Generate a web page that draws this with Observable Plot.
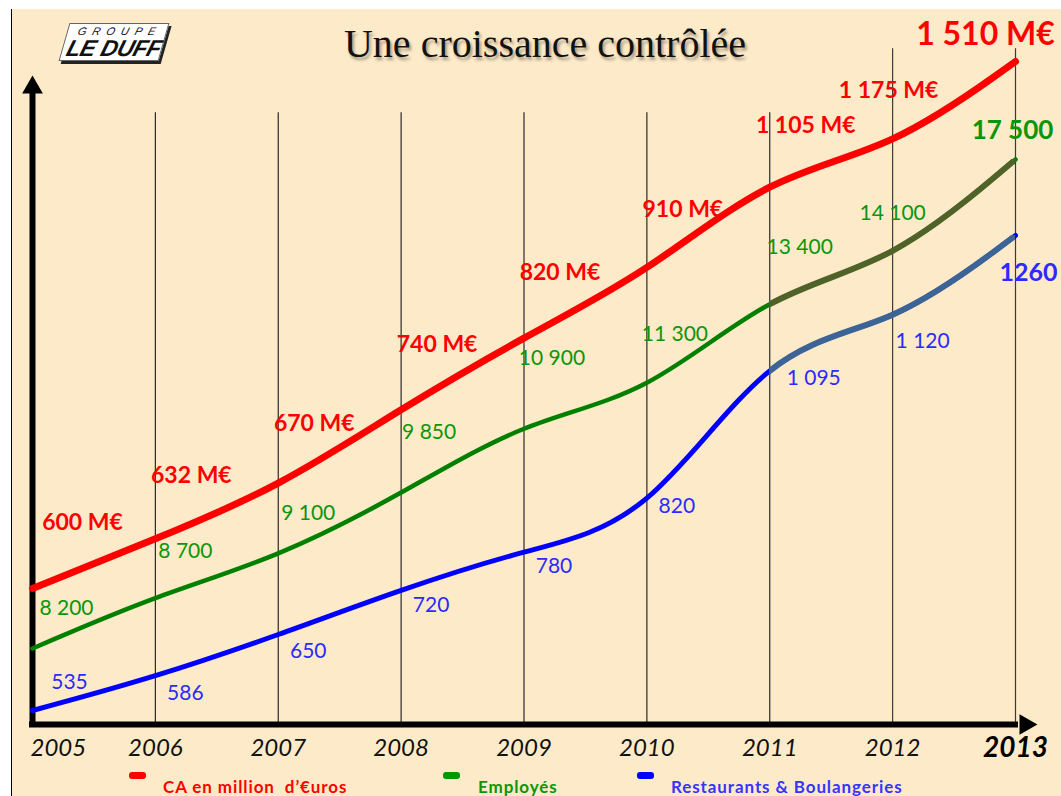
<!DOCTYPE html>
<html>
<head>
<meta charset="utf-8">
<script src="https://cdn.jsdelivr.net/npm/d3@7"></script>
<script src="https://cdn.jsdelivr.net/npm/@observablehq/plot@0.6"></script>
<style>
  html, body { margin: 0; padding: 0; background: #ffffff; }
  #wrap { position: relative; width: 1061px; height: 796px; overflow: hidden; }
  #bg { position: absolute; left: 11px; top: 9px; width: 1050px; height: 787px; background: #fdeac8; border-left: 1px solid #000; }
  #wrap svg { position: absolute; left: 0; top: 0; }
  #title { position: absolute; left: 0; width: 1090px; top: 24px; text-align: center; font-family: "Liberation Serif", serif; font-size: 40px; line-height: 40px; color: #111; text-shadow: 2px 3px 3px rgba(0,0,0,0.35); }
  #logo { position: absolute; left: 64px; top: 23px; width: 98px; height: 36px; background: #fff; border: 1px solid #666; transform: skewX(-16deg); box-shadow: 3px 3px 0 #222; }
  #logo .g { position: absolute; left: 10px; top: 1px; font-family: "Liberation Sans", sans-serif; font-size: 11px; letter-spacing: 6px; color: #111; font-style: italic; }
  #logo .d { position: absolute; left: 4px; top: 11px; font-family: "Liberation Sans", sans-serif; font-size: 23px; font-weight: bold; font-style: italic; color: #111; letter-spacing: -0.5px; }
  .leg { position: absolute; top: 777px; font-family: Lato, sans-serif; font-weight: bold; font-size: 17px; letter-spacing: 0.9px; line-height: 19px; white-space: pre; }
  .sw { position: absolute; top: 772px; width: 17px; height: 7px; border-radius: 3px; }
</style>
</head>
<body>
<div id="wrap">
  <div id="bg"></div>
</div>
<script>
// ---- data ----
const years = [2005, 2006, 2007, 2008, 2009, 2010, 2011, 2012, 2013];
const yearLabels = ["2005", "2006", "2007", "2008", "2009", "2010", "2011", "2012", "2013"];

const caValues = [600, 632, 670, 740, 820, 910, 1105, 1175, 1510];
const caLabels = ["600 M€", "632 M€", "670 M€", "740 M€", "820 M€", "910 M€", "1 105 M€", "1 175 M€", "1 510 M€"];

const empValues = [8200, 8700, 9100, 9850, 10900, 11300, 13400, 14100, 17500];
const empLabels = ["8 200", "8 700", "9 100", "9 850", "10 900", "11 300", "13 400", "14 100", "17 500"];

const restValues = [535, 586, 650, 720, 780, 820, 1095, 1120, 1260];
const restLabels = ["535", "586", "650", "720", "780", "820", "1 095", "1 120", "1260"];

const legendNames = ["CA en million  d\u2019\u20acuros", "Employés", "Restaurants & Boulangeries"];

// ---- tables ----
const ca = years.map((year, i) => ({year, value: caValues[i], label: caLabels[i]}));
const emp = years.map((year, i) => ({year, value: empValues[i], label: empLabels[i]}));
const rest = years.map((year, i) => ({year, value: restValues[i], label: restLabels[i]}));
const yearRows = years.map((year, i) => ({year, label: yearLabels[i]}));

const W = 1061, H = 796, ML = 32, MR = 46;
const FONT = "Lato, 'Open Sans', sans-serif";
const wrap = document.getElementById("wrap");

function place(svg) {
  svg.style.position = "absolute";
  svg.style.left = "0px";
  svg.style.top = "0px";
  svg.style.background = "transparent";
  svg.style.overflow = "visible";
  wrap.appendChild(svg);
}

const x0 = years[0], x1 = years[years.length - 1];
const common = {
  width: W, height: H, marginLeft: ML, marginRight: MR,
  x: {domain: [x0, x1], axis: null},
  style: {background: "transparent", overflow: "visible"}
};

// a second plot whose frame starts at a given year, with the same mapping,
// used to recolour the tail of a line (the full curve clipped to that frame)
function tailPlot(fromYear, rows, y, top, bottom, stroke, strokeWidth) {
  const left = ML + (fromYear - x0) / (x1 - x0) * (W - ML - MR);
  return Plot.plot({
    ...common, marginLeft: left, marginTop: top, marginBottom: bottom,
    x: {domain: [fromYear, x1], axis: null},
    y,
    marks: [Plot.line(rows, {x: "year", y: "value", stroke, strokeWidth, curve: "basis", clip: true})]
  });
}

// ---- base: grid, axes, year labels ----
place(Plot.plot({
  ...common,
  marginTop: 90, marginBottom: 72,
  y: {domain: [0, 1], axis: null},
  marks: [
    Plot.ruleX(years.filter(y => y > 2005 && y < 2012), {y1: 0, y2: 0.965, stroke: "#2a2a2a", strokeWidth: 1.2}),
    Plot.ruleX(years.filter(y => y >= 2012), {y1: 0, y2: 1.066, stroke: "#3a3a3a", strokeWidth: 1.2}),
    Plot.ruleX([2005], {y1: 0, y2: 1, stroke: "#000", strokeWidth: 6, strokeLinecap: "square"}),
    Plot.ruleY([0], {x1: 2005, x2: 2013, stroke: "#000", strokeWidth: 6, strokeLinecap: "square"}),
    Plot.dot([{year: 2005, v: 1}], {x: "year", y: "v", dy: -3, symbol: "triangle", r: 7.7, fill: "#000", stroke: "none"}),
    Plot.dot([{year: 2013, v: 0}], {x: "year", y: "v", dx: 10, symbol: "triangle", rotate: 90, r: 7.7, fill: "#000", stroke: "none"}),
    Plot.text(yearRows.slice(0, 1), {x: "year", y: () => 0, text: "label", dy: 24, dx: -2, textAnchor: "start", fontSize: 24, fontStyle: "italic", fontFamily: FONT, fill: "#111"}),
    Plot.text(yearRows.slice(1, 8), {x: "year", y: () => 0, text: "label", dy: 24, fontSize: 24, fontStyle: "italic", fontFamily: FONT, fill: "#111"}),
    Plot.text(yearRows.slice(8), {x: "year", y: () => 0, text: "label", dy: 24, fontSize: 28, fontStyle: "italic", fontWeight: "bold", fontFamily: FONT, fill: "#000"})
  ]
}));

// ---- Restaurants & Boulangeries (blue) ----
const restY = {type: "linear", domain: [restValues[0], restValues[restValues.length - 1]], axis: null};
const blueText = {x: "year", y: "value", text: "label", fill: "#2b2bff", fontSize: 21, fontFamily: FONT};
place(Plot.plot({
  ...common,
  marginTop: 235, marginBottom: 86,
  y: restY,
  marks: [
    Plot.line(rest, {x: "year", y: "value", stroke: "#0000ff", strokeWidth: 5, curve: "basis"})
  ]
}));
place(tailPlot(2011, rest, restY, 235, 86, "#3c6496", 6));
place(Plot.plot({
  ...common,
  marginTop: 235, marginBottom: 86,
  y: restY,
  marks: [
    Plot.text(rest.slice(0, 1), {...blueText, dx: 37, dy: -28}),
    Plot.text(rest.slice(1, 5), {...blueText, dx: 30, dy: 16}),
    Plot.text(rest.slice(5, 6), {...blueText, dx: 30, dy: -18}),
    Plot.text(rest.slice(6, 7), {...blueText, dx: 44, dy: 35}),
    Plot.text(rest.slice(7, 8), {...blueText, dx: 30, dy: 14}),
    Plot.text(rest.slice(8), {...blueText, dx: 13, dy: 37, fontSize: 25, fontWeight: "bold"})
  ]
}));

// ---- Employés (green) ----
const empY = {type: "pow", exponent: -1, domain: [empValues[0], empValues[empValues.length - 1]], axis: null};
const greenText = {x: "year", y: "value", text: "label", fill: "#0a960a", fontSize: 21, fontFamily: FONT};
place(Plot.plot({
  ...common,
  marginTop: 159, marginBottom: 148,
  y: empY,
  marks: [
    Plot.line(emp, {x: "year", y: "value", stroke: "#008000", strokeWidth: 4.5, curve: "basis"})
  ]
}));
place(tailPlot(2011, emp, empY, 159, 148, "#4f6228", 6));
place(Plot.plot({
  ...common,
  marginTop: 159, marginBottom: 148,
  y: empY,
  marks: [
    Plot.text(emp.slice(0, 1), {...greenText, dx: 34, dy: -40}),
    Plot.text(emp.slice(1, 3), {...greenText, dx: 30, dy: -44}),
    Plot.text(emp.slice(3, 6), {...greenText, dx: 28, dy: -62}),
    Plot.text(emp.slice(6, 7), {...greenText, dx: 30, dy: -44}),
    Plot.text(emp.slice(7, 8), {...greenText, dx: 0, dy: -50}),
    Plot.text(emp.slice(8), {...greenText, dx: -3, dy: -29, fontSize: 26, fontWeight: "bold"})
  ]
}));

// ---- CA (red) ----
const caY = {type: "pow", exponent: -1.3, domain: [caValues[0], caValues[caValues.length - 1]], axis: null};
const redText = {x: "year", y: "value", text: "label", fill: "#ff0000", fontSize: 23, fontWeight: "bold", fontFamily: FONT};
place(Plot.plot({
  ...common,
  marginTop: 61, marginBottom: 208,
  y: caY,
  marks: [
    Plot.line(ca, {x: "year", y: "value", stroke: "#ff0000", strokeWidth: 7, curve: "basis"}),
    Plot.text(ca.slice(0, 1), {...redText, dx: 50, dy: -66}),
    Plot.text(ca.slice(1, 6), {...redText, dx: 36, dy: -64}),
    Plot.text(ca.slice(6, 7), {...redText, dx: 36, dy: -50}),
    Plot.text(ca.slice(7, 8), {...redText, dx: -4, dy: -58}),
    Plot.text(ca.slice(8), {...redText, dx: -30, dy: -27, fontSize: 32})
  ]
}));

// ---- title, logo, legend ----
const title = document.createElement("div");
title.id = "title";
title.textContent = "Une croissance contrôlée";
wrap.appendChild(title);

const logo = document.createElement("div");
logo.id = "logo";
logo.innerHTML = '<div class="g">GROUPE</div><div class="d">LE DUFF</div>';
wrap.appendChild(logo);

const legendColors = ["#ff0000", "#009900", "#0000ff"];
const legendText = ["#ff0000", "#0a960a", "#3535ff"];
const swatchLeft = [129, 443, 637];
const textLeft = [163, 478, 671];
legendNames.forEach((name, i) => {
  const sw = document.createElement("div");
  sw.className = "sw";
  sw.style.left = swatchLeft[i] + "px";
  sw.style.background = legendColors[i];
  wrap.appendChild(sw);
  const t = document.createElement("div");
  t.className = "leg";
  t.style.left = textLeft[i] + "px";
  t.style.color = legendText[i];
  t.textContent = name;
  wrap.appendChild(t);
});
</script>
</body>
</html>
